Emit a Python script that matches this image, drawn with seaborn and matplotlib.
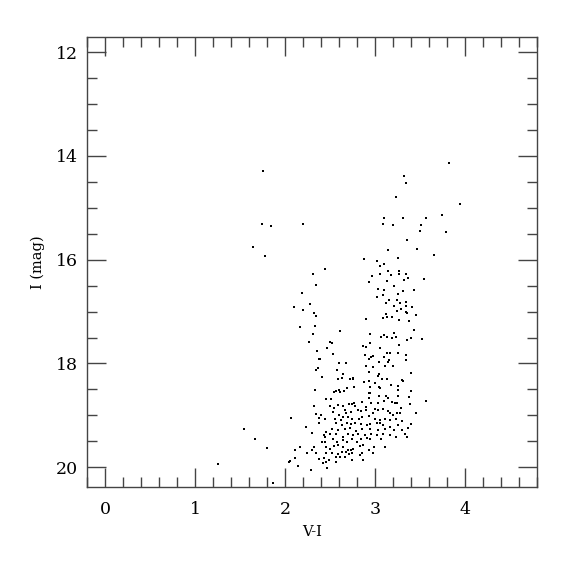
import matplotlib
matplotlib.use("Agg")
import matplotlib.pyplot as plt
import seaborn as sns
import pandas as pd
from matplotlib.ticker import MultipleLocator

# colour-magnitude diagram, values
v_i = [
    1.76, 1.74, 1.84, 2.20, 1.64, 1.78, 2.44, 2.31, 2.35, 2.19,
    3.82, 3.32, 3.34, 3.23, 3.95, 3.10, 3.31, 3.57, 3.75, 3.09, 3.20, 3.51, 3.50, 3.79,
    3.36, 3.47, 3.14, 3.66, 2.88, 3.26, 3.02, 3.10, 3.06, 3.14, 3.27, 2.97, 3.06, 3.18,
    3.27, 3.34, 3.37, 3.32, 3.13, 3.54, 2.93, 3.21, 3.03, 3.10, 3.31, 3.43, 3.26, 3.02,
    3.09, 3.16, 3.25, 3.35,
    2.10, 2.28, 2.20, 2.32, 2.34, 2.33, 2.17, 2.31, 2.27, 2.36, 2.38, 2.37, 2.35, 2.33,
    3.12, 3.28, 3.21, 3.35, 3.41, 3.29, 3.24, 3.34, 3.36, 3.12, 3.46, 3.13, 3.09, 3.19,
    2.90, 3.27, 3.38, 2.61, 2.94, 3.43, 3.10, 3.07, 3.13, 3.21, 3.23, 3.19, 3.40, 3.36,
    3.52, 2.50, 2.52, 2.94, 2.87, 2.90, 3.27, 2.47, 3.06, 3.13, 3.17, 3.26, 2.53, 2.89,
    2.98, 2.96, 3.35, 3.10, 2.93, 2.39, 3.35, 3.16, 3.05, 3.15, 2.60, 2.68, 2.90, 3.11,
    3.20, 2.98, 2.58, 2.93, 3.40, 3.04, 3.03, 2.64, 2.41, 2.59, 2.63, 2.72, 2.76, 2.76,
    3.08, 3.13, 2.88, 2.93, 3.30, 3.31, 3.00, 3.18, 3.26, 2.94, 3.04, 3.06, 2.69, 2.77,
    3.26, 3.40, 2.57, 2.60, 2.61, 2.66, 2.55, 2.93, 2.95, 3.12, 3.26, 3.38, 2.46, 2.51,
    2.93, 3.15, 3.05,
    1.26, 1.55, 1.67, 1.80, 1.87, 2.07, 2.32, 2.35, 2.38, 2.38, 2.23, 2.30, 2.17, 2.32,
    2.11, 2.30, 2.25, 2.35, 2.11, 2.06, 2.05, 2.38, 2.15, 2.29,
    2.50, 2.54, 2.59, 2.64, 2.71, 2.74, 2.77, 2.78, 2.86, 2.90, 2.96, 3.00, 3.03, 3.10,
    3.19, 3.22, 3.24, 3.29, 3.39, 3.57, 2.40, 2.53, 2.60, 2.67, 2.68, 2.73, 2.81, 2.84,
    2.90, 2.98, 3.03, 3.09, 3.15, 3.17, 3.20, 3.25, 3.28, 3.46,
    2.44, 2.56, 2.62, 2.65, 2.70, 2.75, 2.82, 2.86, 2.93, 3.00, 3.06, 3.11, 3.17, 3.23,
    3.30, 3.40, 2.57, 2.63, 2.69, 2.73, 2.78, 2.85, 2.91, 2.95, 3.02, 3.06, 3.09, 3.17,
    3.26, 3.37, 2.46, 2.52, 2.59, 2.67, 2.72, 2.79, 2.86, 2.94, 3.03, 3.11, 3.21, 3.30,
    2.43, 2.44, 2.50, 2.57, 2.65, 2.70, 2.76, 2.81, 2.89, 2.96, 3.02, 3.09, 3.17, 3.33,
    2.41, 2.44, 2.53, 2.58, 2.64, 2.69, 2.74, 2.80, 2.85, 2.91, 2.95, 3.07, 3.23, 3.36,
    2.46, 2.50, 2.54, 2.59, 2.64, 2.70, 2.73, 2.74, 2.68, 2.76, 2.83, 2.87, 2.93, 2.99,
    3.11, 2.46, 2.52, 2.59, 2.63, 2.71, 2.86, 2.98,
    2.43, 2.49, 2.57, 2.61, 2.67, 2.74, 2.83, 2.87, 2.42, 2.46, 2.57, 2.47,
]
i_mag = [
    14.30, 15.31, 15.35, 15.32, 15.76, 15.93, 16.17, 16.27, 16.48, 16.65,
    14.13, 14.39, 14.52, 14.79, 14.92, 15.19, 15.20, 15.20, 15.14, 15.31, 15.34, 15.33, 15.44, 15.47,
    15.62, 15.79, 15.82, 15.91, 15.98, 15.97, 16.03, 16.08, 16.12, 16.22, 16.21, 16.31, 16.28, 16.29,
    16.28, 16.28, 16.35, 16.40, 16.41, 16.38, 16.43, 16.51, 16.57, 16.59, 16.61, 16.59, 16.66, 16.71,
    16.68, 16.78, 16.78, 16.81,
    16.91, 16.86, 16.96, 17.02, 17.09, 17.27, 17.30, 17.43, 17.58, 17.76, 17.92, 18.08, 18.13, 18.52,
    16.84, 16.84, 16.89, 16.89, 16.91, 16.95, 16.98, 17.00, 17.02, 17.04, 17.07, 17.10, 17.12, 17.11,
    17.14, 17.17, 17.18, 17.38, 17.43, 17.36, 17.45, 17.48, 17.49, 17.41, 17.48, 17.51, 17.50, 17.54,
    17.52, 17.59, 17.61, 17.61, 17.66, 17.68, 17.65, 17.70, 17.70, 17.79, 17.79, 17.79, 17.82, 17.84,
    17.85, 17.87, 17.83, 17.88, 17.92, 17.92, 17.93, 17.93, 17.97, 17.97, 17.99, 17.99, 18.04, 18.04,
    18.05, 18.06, 18.12, 18.16, 18.18, 18.20, 18.24, 18.20, 18.26, 18.29, 18.27, 18.29, 18.27, 18.30,
    18.29, 18.29, 18.35, 18.33, 18.32, 18.33, 18.38, 18.42, 18.44, 18.45, 18.45, 18.47, 18.47, 18.46,
    18.52, 18.53, 18.53, 18.51, 18.55, 18.53, 18.55, 18.56, 18.56, 18.62, 18.62, 18.65, 18.69, 18.68,
    18.67, 18.66, 18.62,
    19.93, 19.27, 19.46, 19.62, 20.30, 19.05, 18.82, 18.98, 19.05, 19.15, 19.22, 19.33, 19.61, 19.61,
    19.67, 19.67, 19.73, 19.73, 19.82, 19.87, 19.90, 19.84, 19.98, 20.05,
    18.82, 18.85, 18.80, 18.82, 18.78, 18.78, 18.77, 18.82, 18.75, 18.83, 18.77, 18.87, 18.77, 18.72,
    18.74, 18.76, 18.77, 18.85, 18.79, 18.72, 18.99, 18.93, 18.99, 18.90, 18.96, 18.94, 18.90, 18.92,
    18.90, 18.95, 18.90, 18.88, 18.91, 18.95, 19.00, 18.96, 18.95, 18.96,
    19.06, 19.06, 19.09, 19.03, 19.03, 19.06, 19.06, 19.04, 19.01, 19.06, 19.08, 19.06, 19.09, 19.06,
    19.10, 19.17, 19.15, 19.19, 19.15, 19.17, 19.15, 19.17, 19.19, 19.17, 19.14, 19.15, 19.19, 19.22,
    19.19, 19.25, 19.32, 19.27, 19.28, 19.27, 19.25, 19.30, 19.27, 19.27, 19.28, 19.27, 19.28, 19.28,
    19.38, 19.41, 19.36, 19.35, 19.41, 19.35, 19.38, 19.35, 19.38, 19.35, 19.37, 19.35, 19.38, 19.35,
    19.51, 19.51, 19.46, 19.51, 19.48, 19.51, 19.46, 19.51, 19.46, 19.44, 19.46, 19.46, 19.42, 19.42,
    19.60, 19.64, 19.59, 19.57, 19.60, 19.67, 19.66, 19.72, 19.70, 19.64, 19.59, 19.57, 19.66, 19.60,
    19.60, 19.73, 19.73, 19.75, 19.70, 19.75, 19.72, 19.72,
    19.83, 19.86, 19.80, 19.81, 19.80, 19.85, 19.76, 19.85, 19.92, 19.90, 19.89, 20.01,
]

x_ticks = [0, 1, 2, 3, 4]
y_ticks = [12, 14, 16, 18, 20]

df = pd.DataFrame({"V-I": v_i, "I": i_mag})

sns.set_style("ticks")
plt.rcParams["font.family"] = ["DejaVu Serif"]
plt.rcParams["text.color"] = "black"
plt.rcParams["axes.labelcolor"] = "black"

fig = plt.figure(figsize=(5.75, 5.75), dpi=100)
ax = fig.add_axes([0.1513, 0.153, 0.7826, 0.7826])

sns.scatterplot(data=df, x="V-I", y="I", ax=ax, color="black", marker="s",
                s=3, linewidth=0)

ax.set_xlim(-0.2, 4.8)
ax.set_ylim(20.38, 11.71)
ax.set_xticks(x_ticks)
ax.set_yticks(y_ticks)
ax.xaxis.set_minor_locator(MultipleLocator(0.2))
ax.yaxis.set_minor_locator(MultipleLocator(0.5))

ax.tick_params(which="both", direction="in", top=True, right=True,
               color="#444444", width=1.0, labelsize=12.5, labelcolor="black")
ax.tick_params(which="major", length=13.5)
ax.tick_params(which="minor", length=7)
ax.tick_params(axis="x", which="major", pad=10)
ax.tick_params(axis="y", which="major", pad=6.5)
for sp in ax.spines.values():
    sp.set_color("#444444")
    sp.set_linewidth(1.0)

ax.set_xlabel("V-I", fontsize=10.5, labelpad=5, color="black")
ax.set_ylabel("I (mag)", fontsize=10.5, labelpad=8, color="black")

fig.savefig("out.png", dpi=100)
